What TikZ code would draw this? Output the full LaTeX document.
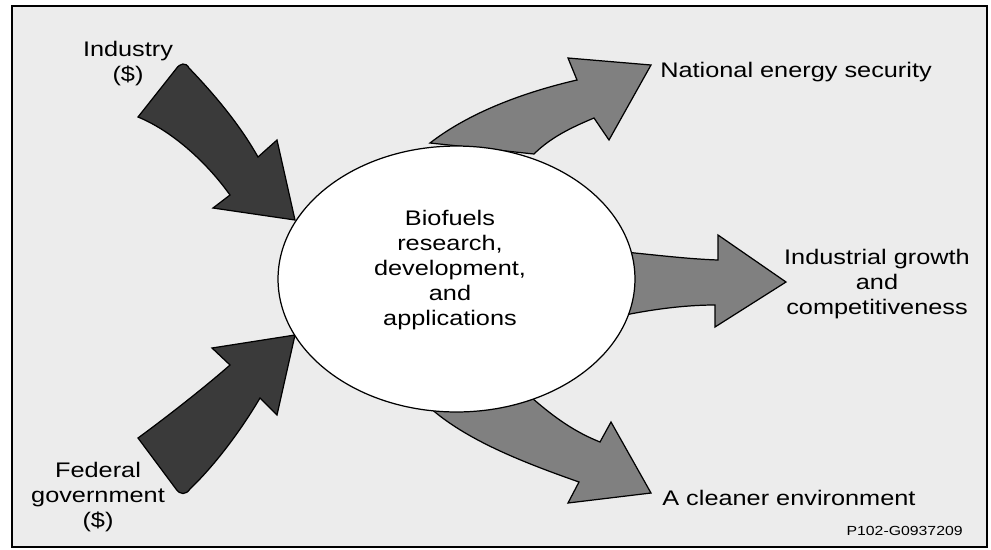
\documentclass[tikz,border=0pt]{standalone}
\usepackage{fontspec}
\setmainfont{Liberation Sans}[FakeStretch=1.2]
\usetikzlibrary{shapes.geometric}

\definecolor{paper}{RGB}{236,236,236}
\definecolor{fundgray}{RGB}{58,58,58}
\definecolor{gaingray}{RGB}{128,128,128}

\begin{document}
\begin{tikzpicture}[x=0.02cm, y=-0.02cm,
    % Panel and hub
    panel/.style={draw=black, line width=1.2pt, fill=paper},
    hub/.style={ellipse, draw=black, line width=0.7pt, fill=white, minimum width=7.14cm, minimum height=5.32cm},
    % Arrow shapes
    fundarrow/.style={draw=black, line width=0.7pt, fill=fundgray, line join=miter},
    gainarrow/.style={draw=black, line width=0.7pt, fill=gaingray, line join=miter},
    % Text styles
    blurb/.style={font=\fontsize{12}{14.2}\selectfont, align=center, inner sep=0pt},
    figcode/.style={font=\fontsize{7.5}{9}\selectfont, inner sep=0pt}
]
\useasboundingbox (0,0) rectangle (991,549);

% Background panel
\draw[panel] (12,6) rectangle (987,547);

% Outgoing arrows (tails hidden under the hub)
\draw[gainarrow] (430,143) .. controls (470,112) and (525,92) .. (577,80) -- (568,58) -- (651,65)
    -- (609,140) -- (594,118) .. controls (570,128) and (550,138) .. (534,154) -- cycle;
\draw[gainarrow] (625,252) .. controls (665,256) and (690,259) .. (718,260) -- (718,235) -- (786,282)
    -- (715,327) -- (715,305) .. controls (690,305) and (660,308) .. (625,315) -- cycle;
\draw[gainarrow] (532,398) .. controls (555,418) and (575,432) .. (600,442) -- (611,422) -- (651,493)
    -- (568,503) -- (579,482) .. controls (525,463) and (465,440) .. (428,406) -- cycle;

% Incoming funding arrows
\draw[fundarrow] (295,220) -- (213,208) -- (230,195) .. controls (205,160) and (170,130) .. (138,117)
    -- (176,69) .. controls (180,63) and (186,62) .. (189,68)
    .. controls (215,95) and (240,125) .. (258,157) -- (277,140) -- cycle;
\draw[fundarrow] (295,335) -- (212,348) -- (230,365) .. controls (205,387) and (168,416) .. (138,438)
    -- (176,489) .. controls (180,495) and (186,495) .. (190,489)
    .. controls (214,466) and (240,432) .. (260,398) -- (277,415) -- cycle;

% Central hub
\node[hub] (hub) at (456.5,279) {};
\node[blurb] (hubtext) at (450,270) {Biofuels\\research,\\development,\\and\\applications};

% Sources
\node[blurb] (industry) at (128,64) {Industry\\(\$)};
\node[blurb] (federal) at (98,497) {Federal\\government\\(\$)};

% Outcomes
\node[blurb, anchor=base west] (security) at (660,77) {National energy security};
\node[blurb] (growth) at (877,284) {Industrial growth\\and\\competitiveness};
\node[blurb, anchor=base west] (cleaner) at (662,505) {A cleaner environment};

% Figure code
\node[figcode, anchor=base east] (code) at (963,535) {P102-G0937209};

\end{tikzpicture}
\end{document}
